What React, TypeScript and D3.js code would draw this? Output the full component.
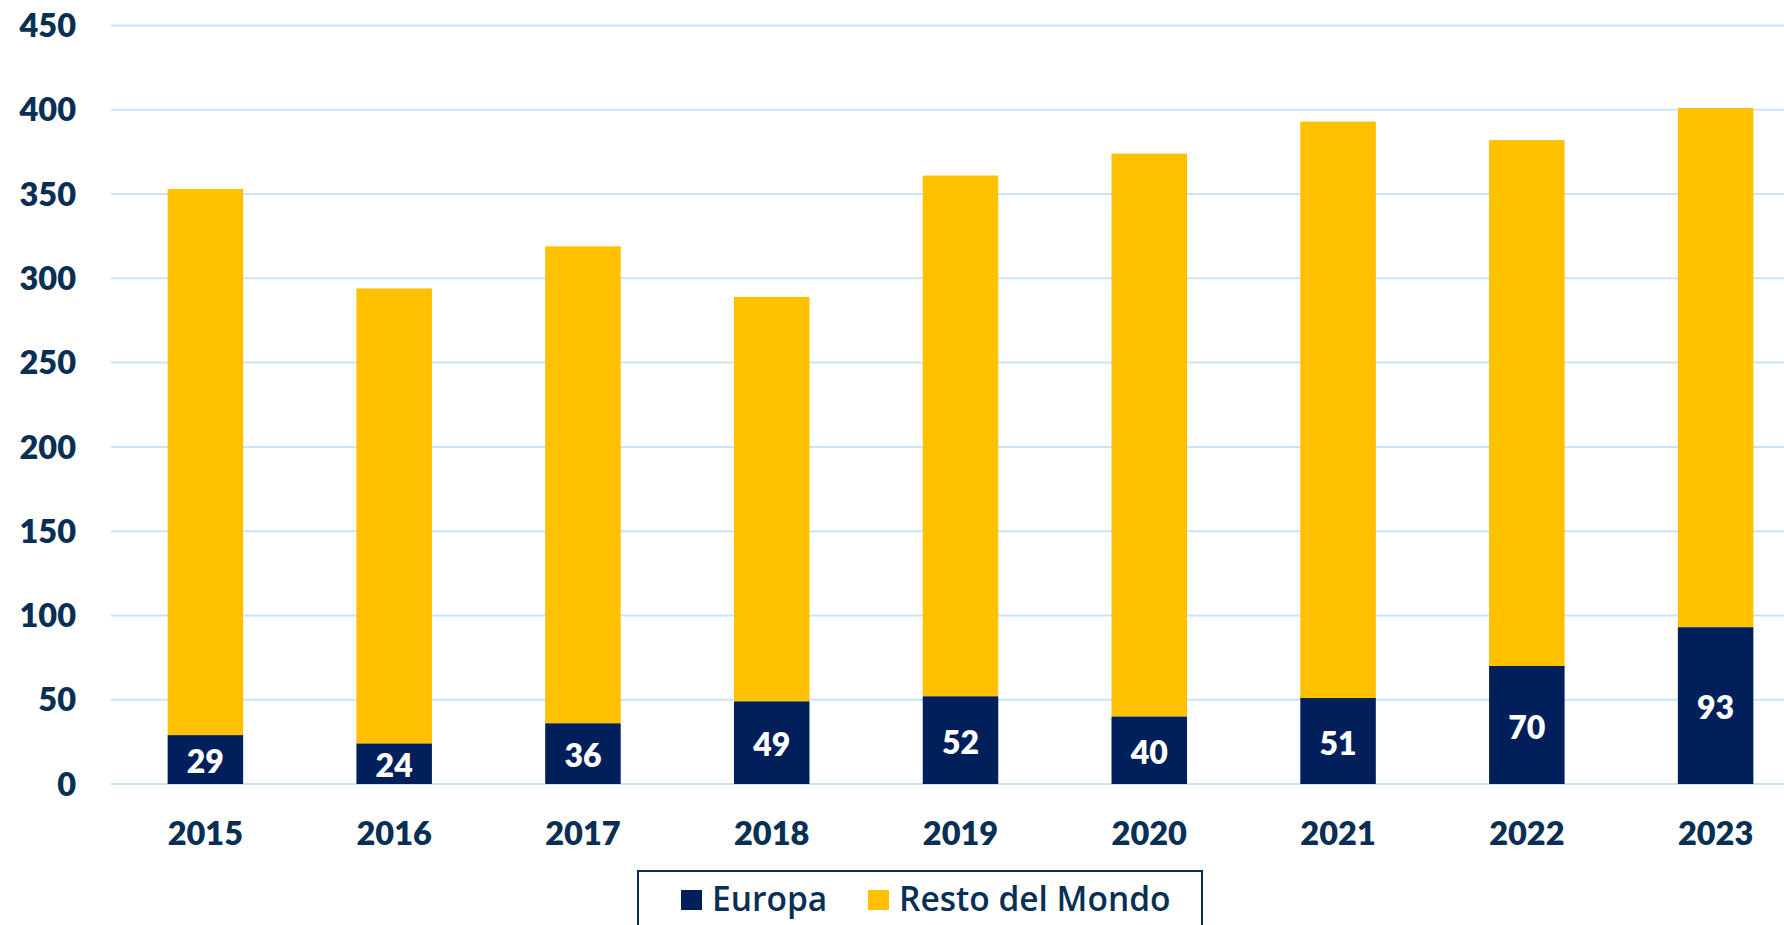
import React from "react";
import * as d3 from "d3";

const years = ["2015", "2016", "2017", "2018", "2019", "2020", "2021", "2022", "2023"];
const europa = [29, 24, 36, 49, 52, 40, 51, 70, 93];
const resto = [324, 270, 283, 240, 309, 334, 342, 312, 308];
const yTicks = [0, 50, 100, 150, 200, 250, 300, 350, 400, 450];
const seriesNames = ["Europa", "Resto del Mondo"];

const W = 1784;
const H = 925;
const NAVY = "#0a2f55";
const C_EU = "#001f5b";
const C_RM = "#ffc000";
const GRID = "#c8e4fa";
const FONT = "Lato, 'Open Sans', sans-serif";
const LFONT = "'Open Sans', sans-serif";

export default function App() {
  const x = d3.scaleBand<string>().domain(years).range([111, 1810]).paddingInner(0.6).paddingOuter(0.3);
  const y = d3.scaleLinear().domain([0, 450]).range([784, 25.5]);
  const bw = x.bandwidth();

  return (
    <svg width={W} height={H} style={{ position: "absolute", left: 0, top: 0, background: "#fff" }}>
      {yTicks.map((t) => (
        <g key={t}>
          <line x1={111} x2={W} y1={y(t)} y2={y(t)} stroke={GRID} strokeWidth={2} />
          <text x={76} y={y(t)} dy="0.36em" textAnchor="end" fontFamily={FONT} fontWeight={800} fontSize={32.5} fill={NAVY}>
            {t}
          </text>
        </g>
      ))}
      {years.map((yr, i) => {
        const x0 = x(yr) as number;
        const tot = europa[i] + resto[i];
        return (
          <g key={yr}>
            <rect x={x0} y={y(tot)} width={bw} height={y(europa[i]) - y(tot)} fill={C_RM} />
            <rect x={x0} y={y(europa[i])} width={bw} height={y(0) - y(europa[i])} fill={C_EU} />
            <text x={x0 + bw / 2} y={(y(europa[i]) + y(0)) / 2 + 2} dy="0.36em" textAnchor="middle" fontFamily={FONT} fontWeight={800} fontSize={32} fill="#fff">
              {europa[i]}
            </text>
            <text x={x0 + bw / 2} y={845} textAnchor="middle" fontFamily={FONT} fontWeight={800} fontSize={32.5} fill={NAVY}>
              {yr}
            </text>
          </g>
        );
      })}
      <rect x={638} y={871} width={564} height={80} fill="none" stroke={NAVY} strokeWidth={2} />
      {seriesNames.map((s, i) => {
        const sx = [681, 868][i];
        return (
          <g key={s}>
            <rect x={sx} y={890} width={21} height={20} fill={i === 0 ? C_EU : C_RM} />
            <text x={sx + 31} y={911} fontFamily={LFONT} fontWeight={600} fontSize={33.5} fill={NAVY}>
              {s}
            </text>
          </g>
        );
      })}
    </svg>
  );
}
